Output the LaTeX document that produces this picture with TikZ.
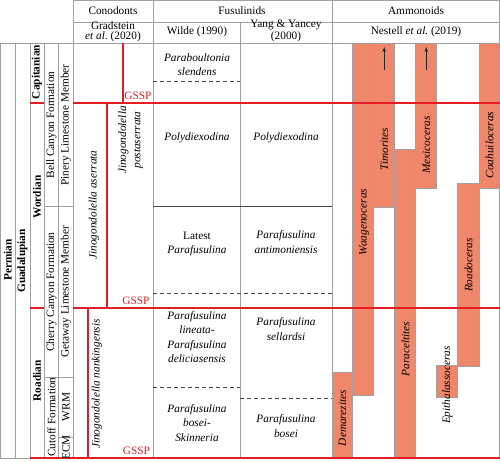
\documentclass[tikz,border=0pt]{standalone}
\usepackage{fontspec}
\setmainfont{Liberation Serif}
\usetikzlibrary{arrows.meta}
\definecolor{redl}{RGB}{228,28,36}
\definecolor{salmon}{RGB}{240,134,106}
\definecolor{gridc}{RGB}{160,160,160}
\definecolor{dk}{RGB}{70,70,70}
\tikzset{
 gl/.style={draw=gridc, line width=0.7pt},
 rl/.style={draw=redl, line width=2pt},
 dl/.style={draw=dk, line width=0.8pt, dash pattern=on 4pt off 3pt},
 sl/.style={draw=dk, line width=0.8pt},
 bar/.style={fill=salmon, draw=gridc, line width=0.5pt},
 txt/.style={font=\fontsize{11.3}{13.5}\selectfont, align=center, inner sep=0pt},
 itx/.style={txt, font=\fontsize{11.3}{14.2}\selectfont\itshape},
 vit/.style={itx, rotate=90},
 vtx/.style={txt, rotate=90},
 bt/.style={txt, font=\fontsize{11.3}{13.5}\selectfont\bfseries, rotate=90},
 gssp/.style={txt, text=redl},
 uparrow/.style={draw=black!85, line width=0.7pt, -{Stealth[length=5pt,width=3.5pt]}},
}
\begin{document}
\begin{tikzpicture}[x=1pt,y=-1pt]
\useasboundingbox (0,0) rectangle (500,461);
% ammonoid bars
\path[bar] (332,372) rectangle (352.7,458);
\path[bar] (352.7,43) rectangle (373.7,395);
\path[bar] (373.7,43) rectangle (394.7,207);
\path[bar] (394.7,149) rectangle (415.7,458);
\path[bar] (415.7,43) rectangle (436.7,188);
\path[bar] (436.7,365) rectangle (457.7,397);
\path[bar] (457.7,183) rectangle (479,366);
\path[bar] (479,43) rectangle (499.5,188);
% grid lines
\path[gl] (73,0.8) -- (499.5,0.8);
\path[gl] (73,22) -- (499.5,22);
\path[gl] (0,43) -- (499.5,43);
\path[gl] (0.5,43) -- (0.5,458);
\path[gl] (15,43) -- (15,458);
\path[gl] (30,43) -- (30,458);
\path[gl] (44,43) -- (44,458);
\path[gl] (58.5,43) -- (58.5,458);
\path[gl] (73,0.8) -- (73,458);
\path[gl] (153,0.8) -- (153,458);
\path[gl] (240,22) -- (240,458);
\path[gl] (332,0.8) -- (332,458);
\path[gl] (499.5,0.8) -- (499.5,458);
\path[gl] (0,458) -- (30,458);
\path[gl] (44,206) -- (73,206);
\path[gl] (44,377) -- (73,377);
\path[gl] (58.5,437) -- (73,437);
% fusulinid boundaries
\path[sl] (153,206) -- (332,206);
\path[dl] (153,81) -- (240,81);
\path[dl] (153,293) -- (332,293);
\path[dl] (153,387) -- (240,387);
\path[dl] (240,398) -- (332,398);
% red lines
\path[rl] (30,103) -- (44,103);
\path[rl] (73,103) -- (500,103);
\path[rl] (30,308) -- (44,308);
\path[rl] (73,308) -- (500,308);
\path[rl] (30,458) -- (500,458);
\path[rl] (123,43) -- (123,103);
\path[rl] (107,103) -- (107,308);
\path[rl] (88,308) -- (88,458);
% arrows
\coordinate (tA) at (384.2,70);
\coordinate (tB) at (384.2,47);
\coordinate (mA) at (426.2,70);
\coordinate (mB) at (426.2,47);
\draw[uparrow] (tA) -- (tB);
\draw[uparrow] (mA) -- (mB);
% header
\node[txt] (hcon) at (113,11) {Conodonts};
\node[txt] (hfus) at (242,11) {Fusulinids};
\node[txt] (hamm) at (416,11) {Ammonoids};
\node[txt, font=\fontsize{11.3}{10.5}\selectfont] (hgrad) at (113,32) {Gradstein\\\textit{et al.}\ (2020)};
\node[txt] (hwil) at (197,32) {Wilde (1990)};
\node[txt, font=\fontsize{11.3}{9.5}\selectfont] (hyan) at (286,31) {Yang \& Yancey\\(2000)};
\node[txt] (hnes) at (416,32) {Nestell \textit{et al.}\ (2019)};
% left columns
\node[bt] (perm) at (7.8,260) {Permian};
\node[bt] (guad) at (22.5,261) {Guadalupian};
\node[bt] (capi) at (37,72) {Capitanian};
\node[bt] (word) at (37,197) {Wordian};
\node[bt] (road) at (37,381) {Roadian};
\node[vtx] (bell) at (51.5,125) {Bell Canyon Formation};
\node[vtx] (pine) at (66,125) {Pinery Limestone Member};
\node[vtx] (cher) at (51.5,292) {Cherry Canyon Formation};
\node[vtx] (geta) at (66,292) {Getaway Limestone Member};
\node[vtx] (cuto) at (51.5,417) {Cutoff Formation};
\node[vtx] (wrm) at (66,407) {WRM};
\node[vtx] (ecm) at (66,447.5) {ECM};
% conodonts
\node[vit] (aser) at (94,205) {Jinogondolella aserrata};
\node[vit] (post) at (130.5,140) {Jinogondolella\\postaserrata};
\node[vit] (nank) at (97,384) {Jinogondolella nankingensis};
\node[gssp] (g1) at (138,96) {GSSP};
\node[gssp] (g2) at (136,301) {GSSP};
\node[gssp] (g3) at (136.5,451) {GSSP};
% fusulinids
\node[itx] (f1) at (197,65) {Paraboultonia\\slendens};
\node[itx] (f2) at (197,138) {Polydiexodina};
\node[txt, font=\fontsize{11.3}{14.2}\selectfont] (f3) at (197,244) {Latest\\\textit{Parafusulina}};
\node[itx] (f4) at (286,138) {Polydiexodina};
\node[itx] (f5) at (286,242) {Parafusulina\\antimoniensis};
\node[itx] (f6) at (197,337) {Parafusulina\\lineata-\\Parafusulina\\deliciasensis};
\node[itx] (f7) at (197,423) {Parafusulina\\bosei-\\Skinneria};
\node[itx] (f8) at (286,329) {Parafusulina\\sellardsi};
\node[itx] (f9) at (286,426) {Parafusulina\\bosei};
% ammonoid labels
\node[vit] (a1) at (342.5,418) {Demarezites};
\node[vit] (a2) at (364,222) {Waagenoceras};
\node[vit] (a3) at (384.5,149) {Timorites};
\node[vit] (a4) at (405.5,349) {Paraceltites};
\node[vit] (a5) at (426.5,145) {Mexicoceras};
\node[vit] (a6) at (447.5,385) {Epithalassoceras};
\node[vit] (a7) at (468.5,265) {Roadoceras};
\node[vit] (a8) at (489.5,145) {Coahuiloceras};
\end{tikzpicture}
\end{document}
